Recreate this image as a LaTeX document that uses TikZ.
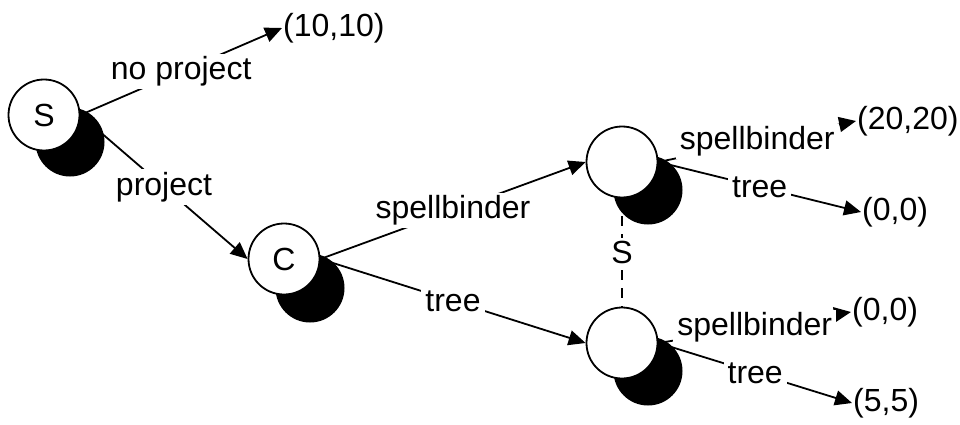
\documentclass[tikz,border=0pt]{standalone}
\usepackage{fontspec}
\setmainfont{Liberation Sans}
\usetikzlibrary{arrows.meta,backgrounds}
\begin{document}
\begin{tikzpicture}[x=1pt,y=-1pt,
  font=\fontsize{32}{37}\selectfont,
  whitecirc/.style={circle,draw=black,line width=1.8pt,fill=white,minimum size=71pt,inner sep=0pt},
  shadowcirc/.style={circle,fill=black,minimum size=69pt,inner sep=0pt},
  payoff/.style={anchor=west,inner sep=1pt},
  edge/.style={line width=1.8pt},
  arr/.style={edge,-{Triangle[length=17pt,width=15pt]}},
  lab/.style={midway,fill=white,inner xsep=4pt,inner ysep=3pt},
  info/.style={line width=1.8pt,dash pattern=on 10pt off 8pt}]
\useasboundingbox (0,0) rectangle (960,425);
% shadows
\node[shadowcirc] (Ssh) at (70,142) {};
\node[shadowcirc] (Csh) at (310,288) {};
\node[shadowcirc] (Ush) at (648,190) {};
\node[shadowcirc] (Lsh) at (648,371) {};
% decision nodes
\node[whitecirc] (S) at (44,115) {S};
\node[whitecirc] (C) at (284,259) {C};
\node[whitecirc] (U) at (622,162) {};
\node[whitecirc] (L) at (622,343) {};
% payoffs
\node[payoff] (t1) at (282,28) {(10,10)};
\node[payoff] (t2) at (856,121) {(20,20)};
\node[payoff] (t3) at (861,212) {(0,0)};
\node[payoff] (t4) at (851,312) {(0,0)};
\node[payoff] (t5) at (852,403) {(5,5)};
\begin{scope}[on background layer]
\draw[arr] (S.east) -- node[lab] {no project} (t1.west);
\draw[arr] (S.east) -- node[lab] {project} (C.west);
\draw[arr] (C.east) -- node[lab] {spellbinder} (U.west);
\draw[arr] (C.east) -- node[lab] {tree} (L.west);
\draw[arr] (U.east) -- node[lab] {spellbinder} (t2.west);
\draw[arr] (U.east) -- node[lab] {tree} (t3.west);
\draw[arr] (L.east) -- node[lab] {spellbinder} (t4.west);
\draw[arr] (L.east) -- node[lab] {tree} (t5.west);
\draw[info] (U.south) -- node[lab] {S} (L.north);
\end{scope}
\end{tikzpicture}
\end{document}
